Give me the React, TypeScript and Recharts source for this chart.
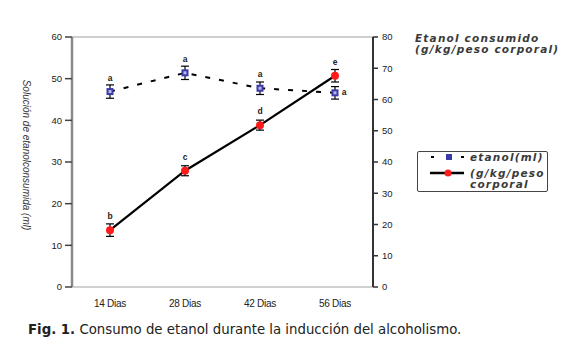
import React from 'react';
import { ComposedChart, Line, XAxis, YAxis, ErrorBar, LabelList, ReferenceLine } from 'recharts';

const categories = ['14 Dias', '28 Dias', '42 Dias', '56 Dias'];
const etanolMl = [46.9, 51.4, 47.7, 46.6];
const etanolMlErr = [1.6, 1.6, 1.5, 1.5];
const etanolMlLetters = ['a', 'a', 'a', 'a'];
const consumoGkg = [18.2, 37.2, 51.8, 67.6];
const consumoGkgErr = [2.0, 1.6, 1.6, 2.0];
const consumoGkgLetters = ['b', 'c', 'd', 'e'];
const leftTicks = [0, 10, 20, 30, 40, 50, 60];
const rightTicks = [0, 10, 20, 30, 40, 50, 60, 70, 80];

const data = categories.map((c, i) => ({
  cat: c,
  ml: etanolMl[i],
  mlErr: etanolMlErr[i],
  mlLetter: etanolMlLetters[i],
  gkg: consumoGkg[i],
  gkgErr: consumoGkgErr[i],
  gkgLetter: consumoGkgLetters[i],
}));

const SquareDot = (props: any) => {
  const { cx, cy } = props;
  if (cx == null || cy == null) return null;
  return (
    <g>
      <rect x={cx - 3.5} y={cy - 3.5} width={7} height={7} fill="#3a3aa8" />
      <rect x={cx - 1.5} y={cy - 1.5} width={3} height={3} fill="#b8b8e8" />
    </g>
  );
};

const RedDot = (props: any) => {
  const { cx, cy } = props;
  if (cx == null || cy == null) return null;
  return <circle cx={cx} cy={cy} r={4} fill="#ff1a1a" />;
};

const mlLabel = (props: any) => {
  const { x, y, value, index } = props;
  if (index === 3) {
    return (
      <text x={x + 9} y={y + 2} fontSize={8.5} fontWeight="bold" fill="#222" fontFamily="Liberation Sans" textAnchor="middle">{value}</text>
    );
  }
  return (
    <text x={x} y={y - 11} fontSize={8.5} fontWeight="bold" fill="#222" fontFamily="Liberation Sans" textAnchor="middle">{value}</text>
  );
};

const gkgLabel = (props: any) => {
  const { x, y, value } = props;
  return (
    <text x={x} y={y - 11} fontSize={8.5} fontWeight="bold" fill="#222" fontFamily="Liberation Sans" textAnchor="middle">{value}</text>
  );
};

const labelFont = { fontFamily: 'DejaVu Sans, Verdana', fontStyle: 'italic' as const, fontWeight: 'bold' as const, fontSize: 10.5, lineHeight: '10.5px', color: '#3a3a3a', whiteSpace: 'nowrap' as const, letterSpacing: 1.2, position: 'absolute' as const };

const LegendBox = () => (
  <div style={{ position: 'absolute', left: 417, top: 151, width: 129, height: 39, border: '1.5px solid #444', borderRadius: 2, background: '#fff' }}>
    <svg width={50} height={30} style={{ position: 'absolute', left: 0, top: 0 }}>
      <line x1={13} y1={5} x2={48} y2={5} stroke="#000" strokeWidth={2} strokeDasharray="3 12" strokeDashoffset={0} />
      <rect x={28} y={2} width={6} height={6} fill="#3a3aa8" />
      <line x1={12} y1={21} x2={46} y2={21} stroke="#000" strokeWidth={2.5} />
      <circle cx={30} cy={21} r={3.5} fill="#ff1a1a" />
    </svg>
    <div style={{ ...labelFont, left: 52, top: 0 }}>etanol(ml)</div>
    <div style={{ ...labelFont, left: 52, top: 16 }}>(g/kg/peso</div>
    <div style={{ ...labelFont, left: 52, top: 26.5 }}>corporal</div>
  </div>
);

export default function App() {
  return (
    <div style={{ position: 'absolute', left: 0, top: 0, width: 575, height: 362, background: '#fff' }}>
      <ComposedChart width={575} height={362} data={data} margin={{ top: 37, right: 0, bottom: 55, left: 0 }}>
        <XAxis dataKey="cat" padding={{ left: 38, right: 38 }} axisLine={{ stroke: '#d0d0d0', strokeWidth: 2 }} tickLine={false} tickMargin={7}
          tick={{ fontSize: 10, fill: '#222', fontFamily: 'Liberation Sans', letterSpacing: -0.3 }} height={20} />
        <YAxis yAxisId="left" orientation="left" width={72} domain={[0, 60]} ticks={leftTicks} interval={0}
          axisLine={{ stroke: '#8a8a8a', strokeWidth: 2.5 }} tickLine={{ stroke: '#444', strokeWidth: 1.5 }} tickSize={7}
          tick={{ fontSize: 9.5, fill: '#222', fontFamily: 'Liberation Sans' }} tickMargin={3} />
        <YAxis yAxisId="right" orientation="right" width={202} domain={[0, 80]} ticks={rightTicks} interval={0}
          axisLine={{ stroke: '#333', strokeWidth: 2 }} tickLine={{ stroke: '#333', strokeWidth: 1.5 }} tickSize={5}
          tick={{ fontSize: 9.5, fill: '#222', fontFamily: 'Liberation Sans' }} tickMargin={4} />
        <ReferenceLine yAxisId="left" y={60} stroke="#cfcfcf" strokeWidth={2} />
        <Line yAxisId="left" dataKey="ml" stroke="#000" strokeWidth={2} strokeDasharray="5 9" dot={<SquareDot />} activeDot={false} isAnimationActive={false}>
          <ErrorBar dataKey="mlErr" width={4} stroke="#000" strokeWidth={1.2} direction="y" />
          <LabelList dataKey="mlLetter" content={mlLabel} />
        </Line>
        <Line yAxisId="right" dataKey="gkg" stroke="#000" strokeWidth={2.2} dot={<RedDot />} activeDot={false} isAnimationActive={false}>
          <ErrorBar dataKey="gkgErr" width={4} stroke="#000" strokeWidth={1.2} direction="y" />
          <LabelList dataKey="gkgLetter" content={gkgLabel} />
        </Line>
        <text x={26} y={155} transform="rotate(90 26 155)" textAnchor="middle" dominantBaseline="middle"
          fontSize={10} fontStyle="italic" fill="#333" fontFamily="Liberation Sans">Solución de etanolconsumida (ml)</text>
      </ComposedChart>
      <LegendBox />
      <div style={{ ...labelFont, left: 415, top: 32.5 }}>Etanol consumido</div>
      <div style={{ ...labelFont, left: 415, top: 43.5 }}>(g/kg/peso corporal)</div>
      <div style={{ position: 'absolute', left: 28, top: 322, fontFamily: 'DejaVu Sans, Verdana', fontSize: 13.3, color: '#222', whiteSpace: 'nowrap' }}>
        <b>Fig. 1.</b> Consumo de etanol durante la inducción del alcoholismo.
      </div>
    </div>
  );
}
